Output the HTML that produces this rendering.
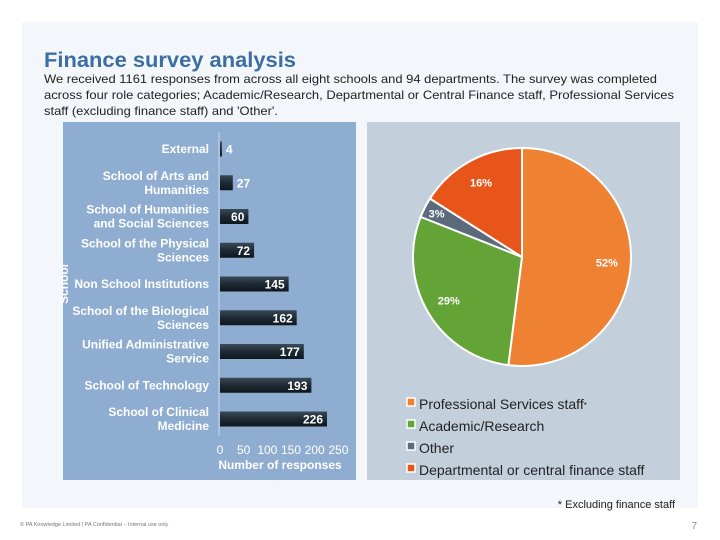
<!DOCTYPE html>
<html><head><meta charset="utf-8"><style>
html,body{margin:0;padding:0;background:#fff;}
svg{display:block;font-family:"Liberation Sans",Arial,sans-serif;}
</style></head><body>
<svg id="s" width="720" height="540" viewBox="0 0 720 540">
<defs>
<linearGradient id="bg" x1="0" y1="0" x2="0" y2="1">
<stop offset="0" stop-color="#3a4a58"/><stop offset="0.5" stop-color="#1e2a34"/><stop offset="1" stop-color="#0e161d"/>
</linearGradient>
</defs>
<rect x="22" y="22" width="676" height="486" fill="#f3f6fa"/>
<text x="44" y="67" font-size="21" font-weight="bold" fill="#3c6ea3" textLength="252" lengthAdjust="spacingAndGlyphs">Finance survey analysis</text>
<g font-size="12" fill="#222">
<text x="44" y="83" textLength="613" lengthAdjust="spacingAndGlyphs">We received 1161 responses from across all eight schools and 94 departments. The survey was completed</text>
<text x="44" y="99" textLength="630" lengthAdjust="spacingAndGlyphs">across four role categories; Academic/Research, Departmental or Central Finance staff, Professional Services</text>
<text x="44" y="115" textLength="234" lengthAdjust="spacingAndGlyphs">staff (excluding finance staff) and 'Other'.</text>
</g>
<rect x="63" y="122" width="293" height="358" fill="#8fadd0"/>
<rect x="367" y="122" width="313" height="358" fill="#c3cfdb"/>
<g id="bars"></g>
<g id="pie"></g>
<g id="legend"></g>
<text x="675" y="508" font-size="11" fill="#222" text-anchor="end">* Excluding finance staff</text>
<text x="20" y="526" font-size="5.5" fill="#777">© PA Knowledge Limited  |  PA Confidential – Internal use only</text>
<text x="697" y="529" font-size="10" fill="#888" text-anchor="end">7</text>
</svg>
<script>
const categories = [["External"],["School of Arts and","Humanities"],["School of Humanities","and Social Sciences"],["School of the Physical","Sciences"],["Non School Institutions"],["School of the Biological","Sciences"],["Unified Administrative","Service"],["School of Technology"],["School of Clinical","Medicine"]];
const responses = [4,27,60,72,145,162,177,193,226];
const xTicks = [0,50,100,150,200,250];
const pieLabels = ["Professional Services staff","Academic/Research","Other","Departmental or central finance staff"];
const pieValues = [52,29,3,16];
const pieColors = ["#ee8232","#64a336","#5b6b7b","#e8551b"];

const NS="http://www.w3.org/2000/svg";
function mk(t,a,p){const e=document.createElementNS(NS,t);for(const k in a)e.setAttribute(k,a[k]);p.appendChild(e);return e;}
const x0=220, xs=0.4735;
const X=v=>x0+v*xs;
const Y=i=>149+i*33.75;
const bars=document.getElementById('bars');
mk('line',{x1:219,y1:132,x2:219,y2:436,stroke:'#c8d6e8','stroke-width':1},bars);
responses.forEach((v,i)=>{
  const r=mk('rect',{x:x0,y:Y(i)-7.5,width:Math.max(1,v*xs),height:15,fill:'url(#bg)'},bars);
  
  
  const t=mk('text',{x:X(v)+(v<40?4:-4),y:Y(i)+4.5,'font-size':12,'font-weight':'bold',fill:'#fff','text-anchor':v<40?'start':'end'},bars);
  t.textContent=v;
  
  
  const lines=categories[i];
  lines.forEach((ln,j)=>{
    const c=mk('text',{x:209,y:Y(i)+4-(lines.length-1)*7+j*14,'font-size':12,'font-weight':'bold',fill:'#fff','text-anchor':'end'},bars);
    c.textContent=ln;
    
    
  });
});
xTicks.forEach(v=>{
  const t=mk('text',{x:X(v),y:454,'font-size':12,fill:'#fff','text-anchor':'middle'},bars);
  t.textContent=v;
  
  
});
const xt=mk('text',{x:280,y:469,'font-size':12,'font-weight':'bold',fill:'#fff','text-anchor':'middle'},bars);
xt.textContent='Number of responses';


const yt=mk('text',{x:0,y:0,'font-size':12,'font-weight':'bold',fill:'#fff','text-anchor':'middle',transform:'translate(68,284) rotate(-90)'},bars);
yt.textContent='School';



const pie=document.getElementById('pie');
const cx=522, cy=257, R=109;
const total=pieValues.reduce((a,b)=>a+b,0);
let a=0;
pieValues.forEach((v,i)=>{
  const a1=a+v/total*2*Math.PI;
  const p=(t)=>[cx+R*Math.sin(t),cy-R*Math.cos(t)];
  const [sx,sy]=p(a),[ex,ey]=p(a1);
  const path=mk('path',{d:`M${cx},${cy} L${sx},${sy} A${R},${R} 0 ${a1-a>Math.PI?1:0} 1 ${ex},${ey} Z`,fill:pieColors[i],stroke:'#fff','stroke-width':2},pie);
  
  
  const m=(a+a1)/2, lr=v<5?R*0.88:R*0.78;
  const t=mk('text',{x:cx+lr*Math.sin(m),y:cy-lr*Math.cos(m)+4,'font-size':11,'font-weight':'bold',fill:'#fff','text-anchor':'middle'},pie);
  t.textContent=v+'%';
  
  
  a=a1;
});
const leg=document.getElementById('legend');
pieLabels.forEach((l,i)=>{
  const y=404+i*22;
  const s=mk('rect',{x:407,y:y-6,width:8,height:8,fill:pieColors[i],stroke:'#fff','stroke-width':1.5},leg);
  
  
  const t=mk('text',{x:419,y:y+5,'font-size':14,fill:'#222'},leg);
  t.textContent=l;
  
  
  if(i===0){const st=mk('tspan',{'font-size':8,dy:-1},t);st.textContent='*';}
});
</script>
</body></html>
